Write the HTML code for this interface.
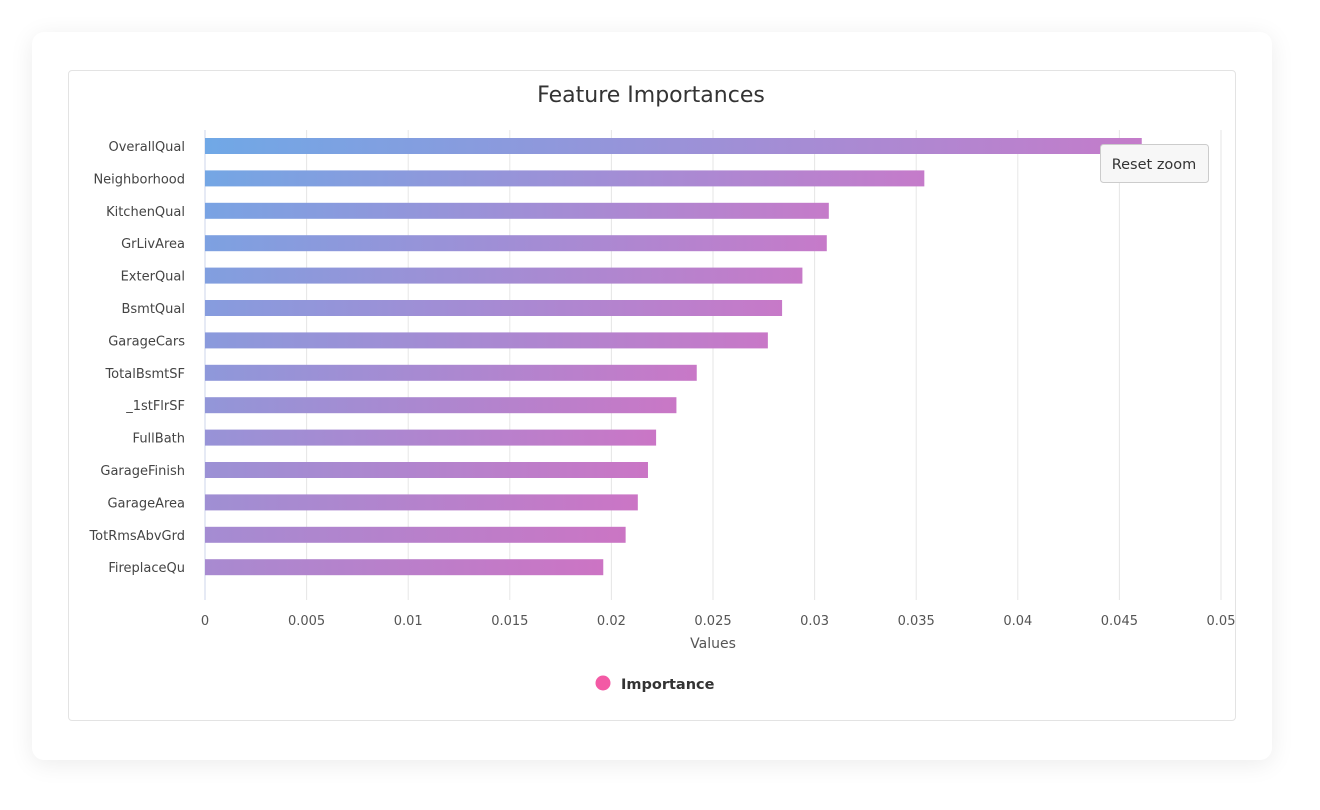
<!DOCTYPE html>
<html><head><meta charset="utf-8"><style>
body{margin:0;width:1320px;height:810px;background:#fff;font-family:"DejaVu Sans","Liberation Sans",sans-serif;overflow:hidden}
#card{position:absolute;left:32px;top:32px;width:1240px;height:728px;background:#fff;border-radius:12px;box-shadow:0 4px 24px rgba(0,0,0,0.08)}
#inner{position:absolute;left:68px;top:70px;width:1166px;height:649px;border:1px solid #e3e3e3;border-radius:4px}
</style></head><body>
<div id="card"></div>
<div id="inner"></div>
<svg id="chart" width="1320" height="810" style="position:absolute;left:0;top:0">
<defs id="defs"></defs>
<text x="651" y="102" text-anchor="middle" font-size="22" fill="#333">Feature Importances</text>
<g id="grid"></g><g id="bars"></g><g id="labels"></g>
<text x="713" y="648" text-anchor="middle" font-size="14" fill="#555">Values</text>
<g>
<circle cx="603" cy="683" r="7.5" fill="#f35aa5"/>
<text x="621" y="689" font-size="14.5" font-weight="bold" fill="#333">Importance</text>
</g>
<g>
<rect x="1100.5" y="144.5" width="108" height="38" rx="3" fill="#f7f7f7" stroke="#ccc"/>
<text x="1154" y="169" text-anchor="middle" font-size="14.5" fill="#333">Reset zoom</text>
</g>
</svg>
<script>
const categories=["OverallQual","Neighborhood","KitchenQual","GrLivArea","ExterQual","BsmtQual","GarageCars","TotalBsmtSF","_1stFlrSF","FullBath","GarageFinish","GarageArea","TotRmsAbvGrd","FireplaceQu"];
const values=[0.0461,0.0354,0.0307,0.0306,0.0294,0.0284,0.0277,0.0242,0.0232,0.0222,0.0218,0.0213,0.0207,0.0196];
const ticks=[0,0.005,0.01,0.015,0.02,0.025,0.03,0.035,0.04,0.045,0.05];
const tickLabels=["0","0.005","0.01","0.015","0.02","0.025","0.03","0.035","0.04","0.045","0.05"];
const NS="http://www.w3.org/2000/svg";
const x0=205,x1=1221,yTop=130,yBot=600;
const xs=v=>x0+(v/0.05)*(x1-x0);
const step=32.4,yc=i=>146+i*step;
function mk(t,a,p){const e=document.createElementNS(NS,t);for(const k in a)e.setAttribute(k,a[k]);p.appendChild(e);return e;}
const grid=document.getElementById('grid'),bars=document.getElementById('bars'),labels=document.getElementById('labels'),defs=document.getElementById('defs');
ticks.forEach((t,i)=>{
 const l=mk('line',{x1:xs(t),x2:xs(t),y1:yTop,y2:yBot,stroke:t===0?'#ccd6eb':'#e6e6e6','stroke-width':1},grid);
 
 
 const tx=mk('text',{x:xs(t),y:625,'text-anchor':'middle','font-size':13,fill:'#555'},labels);
 tx.textContent=tickLabels[i];
 
 
});
function mix(a,b,f){return 'rgb('+a.map((c,i)=>Math.round(c+(b[i]-c)*f)).join(',')+')';}
categories.forEach((c,i)=>{
 const f=i/(categories.length-1);
 const g=mk('linearGradient',{id:'g'+i,x1:0,y1:0,x2:1,y2:0},defs);
 mk('stop',{offset:0,'stop-color':mix([112,168,230],[168,138,208],f)},g);
 mk('stop',{offset:1,'stop-color':mix([196,124,202],[204,116,196],f)},g);
 const r=mk('rect',{x:x0,y:yc(i)-8,width:xs(values[i])-x0,height:16,fill:'url(#g'+i+')'},bars);
 
 
 const tx=mk('text',{x:185,y:yc(i)+5,'text-anchor':'end','font-size':13,fill:'#444'},labels);
 tx.textContent=c;
 
 
});
</script>
</body></html>
